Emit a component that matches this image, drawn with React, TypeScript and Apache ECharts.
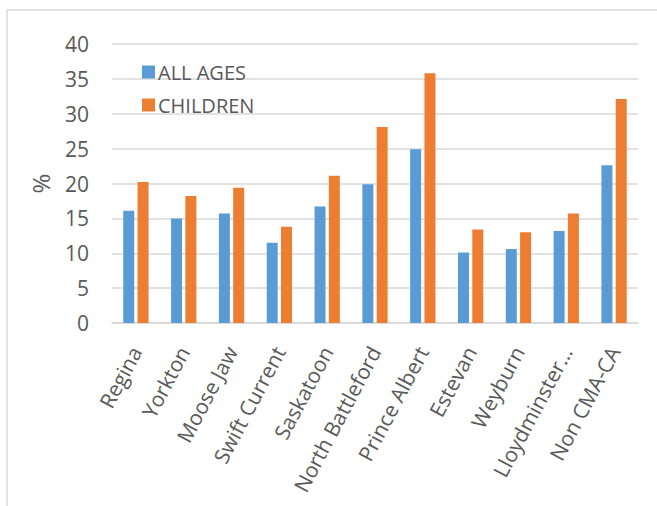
import React, { useEffect, useRef } from "react";
import * as echarts from "echarts";

const categories = [
  "Regina",
  "Yorkton",
  "Moose Jaw",
  "Swift Current",
  "Saskatoon",
  "North Battleford",
  "Prince Albert",
  "Estevan",
  "Weyburn",
  "Lloydminster…",
  "Non CMA-CA",
];
const allAges = [16.1, 15.0, 15.7, 11.5, 16.7, 19.9, 24.9, 10.1, 10.6, 13.2, 22.6];
const children = [20.2, 18.2, 19.4, 13.8, 21.1, 28.1, 35.8, 13.4, 13.0, 15.7, 32.1];
const seriesNames = ["ALL AGES", "CHILDREN"];

const FONT = "'Open Sans', 'Noto Sans', sans-serif";

export default function App() {
  const ref = useRef<HTMLDivElement>(null);
  useEffect(() => {
    if (!ref.current) return;
    const chart = echarts.init(ref.current, null, { renderer: "svg" });
    chart.setOption({
      animation: false,
      backgroundColor: "#ffffff",
      textStyle: { fontFamily: FONT },
      graphic: [
        {
          type: "rect",
          shape: { x: 7, y: 10, width: 720, height: 600 },
          style: { fill: "none", stroke: "#d9d9d9", lineWidth: 1.5 },
          silent: true,
          z: -10,
        },
      ],
      grid: { left: 112, right: 19, top: 44, bottom: 183 },
      legend: {
        orient: "vertical",
        left: 142,
        top: 62,
        padding: 0,
        itemWidth: 13,
        itemHeight: 13,
        itemGap: 13,
        icon: "rect",
        textStyle: { fontSize: 20, color: "#595959", fontFamily: FONT, padding: [0, 0, 0, -2] },
        data: seriesNames,
      },
      xAxis: {
        type: "category",
        data: categories,
        axisTick: { show: false },
        axisLine: { show: true, lineStyle: { color: "#d9d9d9", width: 1.5 } },
        axisLabel: {
          rotate: 62,
          interval: 0,
          margin: 25,
          fontSize: 21,
          color: "#595959",
          fontFamily: FONT,
        },
      },
      yAxis: {
        type: "value",
        min: 0,
        max: 40,
        interval: 5,
        name: "%",
        nameLocation: "middle",
        nameRotate: 90,
        nameGap: 60,
        nameTextStyle: { fontSize: 24, color: "#595959", fontFamily: FONT },
        axisLine: { show: false },
        axisTick: { show: false },
        axisLabel: { fontSize: 21, color: "#595959", margin: 23, fontFamily: FONT },
        splitLine: { lineStyle: { color: "#d9d9d9", width: 1.5 } },
      },
      series: [
        {
          name: seriesNames[0],
          type: "bar",
          data: allAges,
          barWidth: 11,
          barGap: "30%",
          itemStyle: { color: "#5B9BD5" },
        },
        {
          name: seriesNames[1],
          type: "bar",
          data: children,
          barWidth: 11,
          barGap: "30%",
          itemStyle: { color: "#ED7D31" },
        },
      ],
    });
    return () => chart.dispose();
  }, []);
  return (
    <div
      ref={ref}
      style={{ position: "fixed", left: 0, top: 0, width: 657, height: 506 }}
    />
  );
}
